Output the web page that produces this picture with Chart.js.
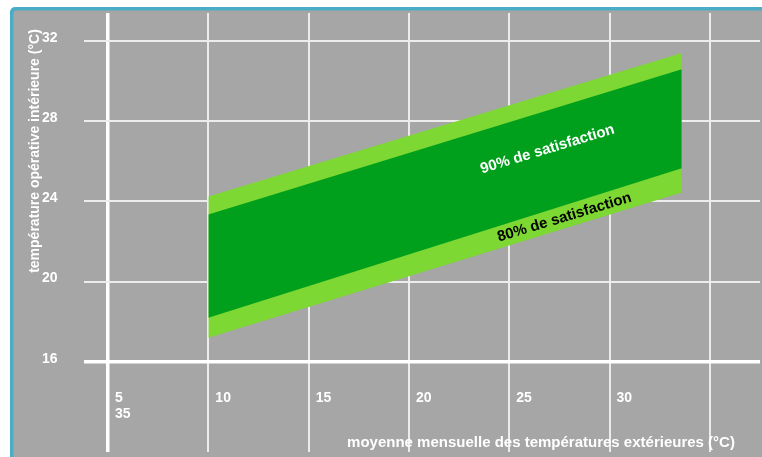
<!DOCTYPE html>
<html>
<head>
<meta charset="utf-8">
<script src="https://cdn.jsdelivr.net/npm/chart.js@4.4.0/dist/chart.umd.min.js"></script>
<style>
  html, body { margin: 0; padding: 0; background: #fff; }
  #wrap { position: relative; width: 762px; height: 457px; }
</style>
</head>
<body>
<div id="wrap"><canvas id="chart"></canvas></div>
<script>
// monthly mean outdoor temperature where the comfort band starts / ends (°C)
const bandX = [10, 33.6];
// indoor operative temperature limits (°C)
const upper80 = [24.25, 31.4];
const upper90 = [23.35, 30.6];
const lower90 = [18.2, 25.65];
const lower80 = [17.2, 24.45];

const xTicks = [5, 10, 15, 20, 25, 30, 35];
const xTickLabels = [['5', '35'], '10', '15', '20', '25', '30', ''];
const yTicks = [16, 20, 24, 28, 32];
const yTickLabels = ['16', '20', '24', '28', '32'];

const xTitle = 'moyenne mensuelle des températures extérieures (°C)';
const yTitle = 'température opérative intérieure (°C)';
const bandLabels = ['90% de satisfaction', '80% de satisfaction'];

const FONT = '"Liberation Sans", Arial, sans-serif';
const GREEN_DARK = '#00a01c';
const GREEN_LIGHT = '#7dd833';

function pts(ys) {
  return bandX.map((x, i) => ({ x: x, y: ys[i] }));
}

function edge(ys, fill, color) {
  return {
    data: pts(ys),
    fill: fill,
    backgroundColor: color,
    borderColor: 'rgba(0,0,0,0)',
    borderWidth: 0,
    pointRadius: 0,
    tension: 0
  };
}

// grey panel with the teal frame
const frame = {
  id: 'frame',
  beforeDraw(chart) {
    const c = chart.ctx;
    c.save();
    c.fillStyle = '#ffffff';
    c.fillRect(0, 0, chart.width, chart.height);
    c.fillStyle = '#4bacc6';
    c.beginPath();
    c.roundRect(10, 7, chart.width, chart.height, 5);
    c.fill();
    c.fillStyle = '#a6a6a6';
    c.beginPath();
    c.roundRect(13.5, 10.5, chart.width, chart.height, 3);
    c.fill();
    c.restore();
  }
};

// tick labels, titles and band captions
const texts = {
  id: 'texts',
  afterDraw(chart) {
    const c = chart.ctx, xs = chart.scales.x, ys = chart.scales.y;
    const axisY = ys.getPixelForValue(yTicks[0]);
    c.save();
    c.fillStyle = '#ffffff';
    c.textBaseline = 'middle';
    c.textAlign = 'left';
    c.font = 'bold 14px ' + FONT;
    xTicks.forEach((v, i) => {
      [].concat(xTickLabels[i]).forEach((t, k) => {
        c.fillText(t, xs.getPixelForValue(v) + 7, axisY + 36 + k * 16.5);
      });
    });
    yTicks.forEach((v, i) => {
      c.fillText(yTickLabels[i], 42, ys.getPixelForValue(v) - 3);
    });

    c.textAlign = 'center';
    c.font = 'bold 15px ' + FONT;
    c.fillText(xTitle, 541, 443);

    c.save();
    c.translate(35, 151);
    c.rotate(-Math.PI / 2);
    c.font = 'bold 14px ' + FONT;
    c.fillText(yTitle, 0, 0);
    c.restore();

    // captions follow the slope of the band
    const ang = Math.atan2(
      ys.getPixelForValue(upper80[1]) - ys.getPixelForValue(upper80[0]),
      xs.getPixelForValue(bandX[1]) - xs.getPixelForValue(bandX[0]));
    const spots = [[26.9, 26.6, '#ffffff'], [27.75, 23.2, '#000000']];
    c.font = 'bold 15px ' + FONT;
    spots.forEach((s, i) => {
      c.save();
      c.translate(xs.getPixelForValue(s[0]), ys.getPixelForValue(s[1]));
      c.rotate(ang);
      c.fillStyle = s[2];
      c.fillText(bandLabels[i], 0, 0);
      c.restore();
    });
    c.restore();
  }
};

function gridOpts(axisValue) {
  return {
    drawTicks: false,
    color: ctx => (ctx.tick && ctx.tick.value === axisValue) ? '#ffffff' : '#ececec',
    lineWidth: ctx => (ctx.tick && ctx.tick.value === axisValue) ? 3.5 : 2
  };
}

new Chart(document.getElementById('chart'), {
  type: 'line',
  data: {
    datasets: [
      edge(upper90, '+1', GREEN_DARK),
      edge(lower90, false, GREEN_DARK),
      edge(upper80, '+1', GREEN_LIGHT),
      edge(lower80, false, GREEN_LIGHT)
    ]
  },
  options: {
    responsive: true,
    maintainAspectRatio: false,
    animation: false,
    layout: { padding: { left: 84, top: 13, right: 2, bottom: 5 } },
    plugins: {
      legend: { display: false },
      tooltip: { enabled: false }
    },
    scales: {
      x: {
        type: 'linear',
        min: 3.8,
        max: 37.5,
        afterBuildTicks: s => { s.ticks = xTicks.map(v => ({ value: v })); },
        ticks: { display: false },
        border: { display: false },
        grid: gridOpts(xTicks[0])
      },
      y: {
        type: 'linear',
        min: 11.5,
        max: 33.4,
        afterBuildTicks: s => { s.ticks = yTicks.map(v => ({ value: v })); },
        ticks: { display: false },
        border: { display: false },
        grid: gridOpts(yTicks[0])
      }
    }
  },
  plugins: [frame, texts]
});
</script>
</body>
</html>
